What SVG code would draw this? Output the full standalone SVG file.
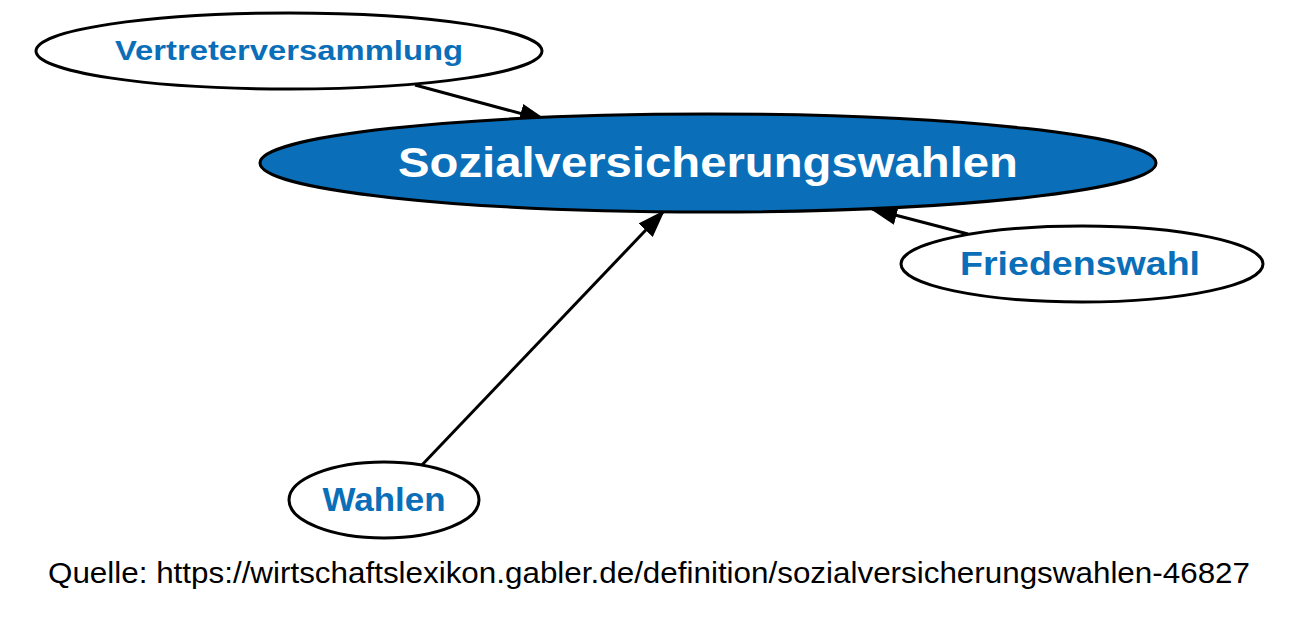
<svg xmlns="http://www.w3.org/2000/svg" width="1300" height="626" viewBox="0 0 1300 626">
<style>
.n{fill:#fff;stroke:#000;stroke-width:3}
.t{font-family:"Liberation Sans",Arial,sans-serif;font-weight:bold;fill:#0a6fb8;text-anchor:middle}
.e{stroke:#000;stroke-width:3;fill:none}
</style>
<defs>
<marker id="ar" viewBox="0 0 10 10" refX="9" refY="5" markerWidth="28" markerHeight="28" markerUnits="userSpaceOnUse" orient="auto"><path d="M0,1.5L10,5L0,8.5z"/></marker></defs>
<rect width="1300" height="626" fill="#fff"/>
<g id="edges">
<line class="e" x1="415" y1="85" x2="545" y2="120" marker-end="url(#ar)"/>
<line class="e" x1="968" y1="234" x2="872" y2="209" marker-end="url(#ar)"/>
<line class="e" x1="421" y1="466" x2="663" y2="212" marker-end="url(#ar)"/>
</g>
<g id="n_main"><ellipse cx="708" cy="163" rx="448" ry="49" fill="#0a6fb8" stroke="#000" stroke-width="3"/><text x="708" y="177" class="t" style="fill:#fff;font-size:42px" textLength="620" lengthAdjust="spacingAndGlyphs">Sozialversicherungswahlen</text></g>
<g id="n_vv"><ellipse class="n" cx="289" cy="51" rx="253" ry="38"/><text x="289" y="60" class="t" font-size="28" textLength="348" lengthAdjust="spacingAndGlyphs">Vertreterversammlung</text></g>
<g id="n_fw"><ellipse class="n" cx="1082" cy="264" rx="181" ry="38"/><text x="1080" y="275" class="t" font-size="33" textLength="240" lengthAdjust="spacingAndGlyphs">Friedenswahl</text></g>
<g id="n_wa"><ellipse class="n" cx="384" cy="500" rx="95" ry="38"/><text x="384" y="511" class="t" font-size="33" textLength="123" lengthAdjust="spacingAndGlyphs">Wahlen</text></g>
<text x="649" y="583" font-family="'Liberation Sans',Arial,sans-serif" font-size="29" text-anchor="middle" textLength="1202" lengthAdjust="spacingAndGlyphs">Quelle: https://wirtschaftslexikon.gabler.de/definition/sozialversicherungswahlen-46827</text>
</svg>
